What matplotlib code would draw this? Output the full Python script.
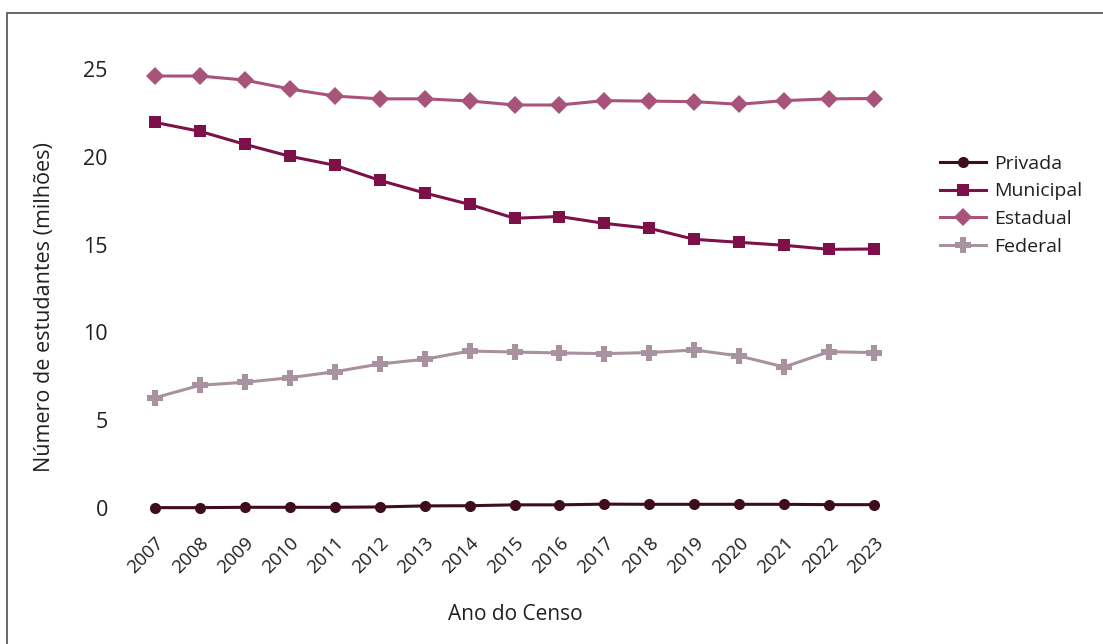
import matplotlib
matplotlib.use("Agg")
import matplotlib.pyplot as plt
from matplotlib.patches import Rectangle

years = list(range(2007, 2024))
privada = [0.02, 0.02, 0.04, 0.04, 0.04, 0.06, 0.12, 0.13, 0.18, 0.18, 0.22, 0.21, 0.21, 0.21, 0.21, 0.19, 0.19]
municipal = [21.96, 21.45, 20.71, 20.03, 19.52, 18.66, 17.94, 17.29, 16.50, 16.60, 16.21, 15.93, 15.30, 15.13, 14.96, 14.73, 14.75]
estadual = [24.60, 24.60, 24.37, 23.86, 23.46, 23.30, 23.30, 23.18, 22.95, 22.95, 23.20, 23.17, 23.14, 22.99, 23.20, 23.30, 23.32]
federal = [6.28, 6.99, 7.16, 7.42, 7.76, 8.20, 8.47, 8.94, 8.88, 8.83, 8.79, 8.85, 9.00, 8.66, 8.03, 8.90, 8.85]
series_names = ["Privada", "Municipal", "Estadual", "Federal"]
yticks = [0, 5, 10, 15, 20, 25]

plt.rcParams['font.family'] = ['Open Sans', 'DejaVu Sans']

W, H = 1103, 644
fig = plt.figure(figsize=(W / 100, H / 100), dpi=100)
fig.patch.set_facecolor('white')

# frame
fig.patches.append(Rectangle((7 / W, -0.1), 1.2, (H - 13) / H + 0.1, transform=fig.transFigure,
                             fill=False, edgecolor='#5a5a5a', linewidth=1.3))

ax_l, ax_r, ax_t, ax_b = 130, 900, 55, 520
ax = fig.add_axes([ax_l / W, 1 - ax_b / H, (ax_r - ax_l) / W, (ax_b - ax_t) / H])
px_per_year = (874 - 155) / 16
ax.set_xlim(2007 - (155 - ax_l) / px_per_year, 2023 + (ax_r - 874) / px_per_year)
px_per_unit = (508 - 69) / 25
ax.set_ylim(-(ax_b - 508) / px_per_unit, 25 + (69 - ax_t) / px_per_unit)

styles = [
    dict(color='#3f0b1f', marker='o', markersize=8),
    dict(color='#7d1049', marker='s', markersize=9),
    dict(color='#a8537a', marker='D', markersize=9.5),
    dict(color='#a8929f', marker='P', markersize=11),
]
data = [privada, municipal, estadual, federal]
for name, vals, st in zip(series_names, data, styles):
    ax.plot(years, vals, label=name, linewidth=2.2, markeredgewidth=0, **st)

for s in ax.spines.values():
    s.set_visible(False)
ax.set_yticks(yticks)
ax.set_yticklabels([str(v) for v in yticks], fontsize=15.5, color='#231f20')
ax.set_xticks(years)
ax.set_xticklabels([str(y) for y in years], rotation=45, ha='right', rotation_mode='anchor',
                   fontsize=13.5, color='#231f20')
ax.tick_params(axis='both', length=0)
ax.tick_params(axis='y', pad=16)
ax.tick_params(axis='x', pad=10)
ax.set_ylabel("Número de estudantes (milhões)", fontsize=15.5, color='#231f20')
ax.yaxis.set_label_coords((45 - ax_l) / (ax_r - ax_l), (ax_b - 307) / (ax_b - ax_t))
ax.set_xlabel("Ano do Censo", fontsize=15, color='#231f20')
ax.xaxis.set_label_coords((515 - ax_l) / (ax_r - ax_l), -(615 - ax_b) / (ax_b - ax_t))
ax.xaxis.label.set_va('center')
ax.yaxis.label.set_va('center')

leg = fig.legend(loc='upper left', bbox_to_anchor=(932 / W, 1 - 147 / H), frameon=False,
                 fontsize=14, handlelength=2.4, labelspacing=0.5, handletextpad=0.4,
                 borderaxespad=0)
for t in leg.get_texts():
    t.set_color('#231f20')

fig.savefig("out.png", dpi=100, facecolor='white')
